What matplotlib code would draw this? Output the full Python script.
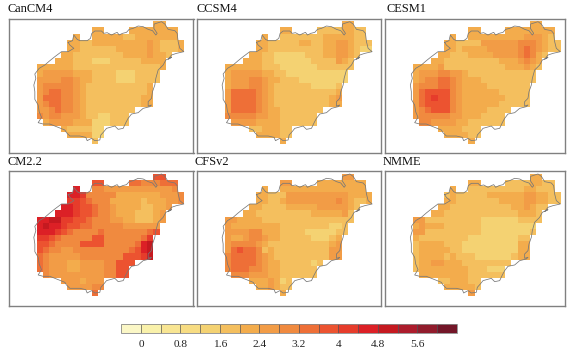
import numpy as np
import matplotlib
matplotlib.use("Agg")
import matplotlib.pyplot as plt
from matplotlib.colors import ListedColormap, BoundaryNorm

plt.rcParams['font.family'] = ['Liberation Serif', 'DejaVu Serif']

W, H = 571, 351
BOUNDS = [round(-0.4 + 0.4 * i, 1) for i in range(18)]
TICKS = [0, 0.8, 1.6, 2.4, 3.2, 4, 4.8, 5.6]
TICK_LABELS = ['0', '0.8', '1.6', '2.4', '3.2', '4', '4.8', '5.6']
COLORS = ['#FBF7C6', '#F9F1AA', '#F8E592', '#F7DC82', '#F4D272', '#F4BF5E', '#F3AC4C',
          '#F29C46', '#F08A3F', '#EE6F37', '#EC5330', '#E63C2B', '#DC2026', '#C51920',
          '#AC1C2C', '#911C2C', '#731628']

# class number (0-9, A-G) of each grid cell, '.' = no data, north to south
CanCM4 = [
    "...................66...",
    ".........66....66666666.",
    "......6..66666556666666.",
    ".....6655666666666765556",
    ".....6655555566666765556",
    "....665555555566667665..",
    "...666555444555556666...",
    "666666555555555555556...",
    "67777766655554445555....",
    "77778876655554445555....",
    "7888887655555555556.....",
    "7899887655555555556.....",
    "7999887655555555566.....",
    "7899887655555555566.....",
    "7789887655555555........",
    "878877765544555.........",
    ".67777666444555.........",
    "....6555544.............",
    ".....666644.............",
    ".........5..............",
]
CCSM4 = [
    "...................66...",
    ".........66....55556655.",
    "......6..55555556666655.",
    ".....6655555665566776555",
    ".....6655555555566776544",
    "....665544444555667765..",
    "...666554444445555765...",
    "666666555444444555555...",
    "67777766554444444444....",
    "67778876655544444444....",
    "6777887655555544445.....",
    "7999987655555555556.....",
    "7999987655555555567.....",
    "7999987655555555566.....",
    "7999987665555555........",
    "888887766555555.........",
    ".77776666555555.........",
    "....5566655.............",
    ".....666655.............",
    ".........6..............",
]
CESM1 = [
    "...................66...",
    ".........66....66666666.",
    "......6..66666666677765.",
    ".....6655557777778887655",
    ".....6656666777778987655",
    "....665556666777789865..",
    "...665555555556667876...",
    "666675555555555666765...",
    "67778877655555555555....",
    "67889987666555555555....",
    "7888998766665555555.....",
    "79AAAA8766666655555.....",
    "79ABAA8766666665555.....",
    "79AAAA8766666655555.....",
    "789AAA8766665555........",
    "788888776665555.........",
    ".88777766555555.........",
    "....6666555.............",
    ".....666655.............",
    ".........6..............",
]
CM22 = [
    "...................AA...",
    ".........AA....99888999.",
    "......C..88777777777778.",
    ".....CCB8888866666667778",
    ".....BBA9888666665666778",
    "....CCBAA9887666655667..",
    "...CCCBAA988766655567...",
    "CCDDBBAA9888776655567...",
    "CDCCBAA9988888777777....",
    "CCCBA98888988888889A....",
    "BBA988888AA8888889B.....",
    "AA98888AAAA888889CD.....",
    "A988778888888889ACD.....",
    "98777778888888AAABD.....",
    "9877766777788AAA........",
    "9877766777788AA.........",
    ".877777777788AA.........",
    "....7776777.............",
    ".....777788.............",
    ".........9..............",
]
CFSv2 = [
    "...................77...",
    ".........77....66666666.",
    "......6..66666666666666.",
    ".....6655577777777776666",
    ".....6655677777777876556",
    "....665555666667777765..",
    "...665555555556666675...",
    "776666555555555555555...",
    "76666666655555555445....",
    "77778866655554444455....",
    "7667887665555544456.....",
    "7888876555555555567.....",
    "79A9985655555555577.....",
    "8999987655555555577.....",
    "8999987665555545........",
    "899988766555555.........",
    ".88877766555555.........",
    "....6667645.............",
    ".....667655.............",
    ".........6..............",
]
NMME = [
    "...................66...",
    ".........66....55556655.",
    "......6..55555555566555.",
    ".....5655555666666776655",
    ".....6655555556666776655",
    "....665555555555667655..",
    "...665555555555556665...",
    "775555555554444445555...",
    "67666555555444444444....",
    "77555555555444444445....",
    "6555555554444444455.....",
    "5666655544444444466.....",
    "5666665544444444466.....",
    "5666656555444444566.....",
    "5667766655555555........",
    "566666666555444.........",
    ".66666666555555.........",
    "....5566655.............",
    ".....666665.............",
    ".........7..............",
]

# coastline traced on the CanCM4 panel
COAST_X = [205, 218, 222, 232, 240, 262, 272, 276, 285, 305, 312, 322, 335, 345, 352, 358, 368, 380, 388, 400,
           415, 430, 445, 458, 468, 472, 462, 463, 485, 495, 505, 525, 532, 535, 540, 552, 530, 515, 505, 515,
           498, 490, 475, 468, 465, 458, 455, 445, 445, 455, 450, 430, 415, 395, 385, 378, 370, 355, 345, 320,
           312, 303, 300, 285, 275, 262, 258, 240, 210, 200, 195, 170, 150, 130, 115, 125, 118, 115, 105, 105,
           102, 108, 105, 118, 135, 150, 165, 185, 205, 222, 210, 205]
COAST_Y = [127, 122, 105, 118, 122, 122, 115, 100, 93, 93, 100, 98, 105, 100, 97, 105, 100, 97, 88, 85,
           78, 80, 88, 92, 105, 100, 85, 72, 65, 72, 88, 92, 100, 125, 145, 155, 160, 165, 178, 172,
           180, 195, 210, 235, 255, 275, 295, 305, 318, 315, 320, 325, 338, 342, 355, 368, 385, 388, 378, 385,
           395, 405, 420, 422, 415, 422, 412, 408, 408, 398, 390, 380, 372, 372, 368, 352, 335, 315, 298, 275,
           255, 235, 222, 205, 195, 182, 170, 155, 155, 145, 135, 127]

PANELS = [
    ("CanCM4", CanCM4, (8.5, 193.5, 18.7, 153.3), (7.3, 12.5)),
    ("CCSM4", CCSM4, (196.8, 381.0, 18.7, 153.3), (196.7, 12.5)),
    ("CESM1", CESM1, (385.0, 565.0, 18.7, 153.3), (386.7, 12.5)),
    ("CM2.2", CM22, (8.5, 193.5, 171.0, 305.7), (7.0, 165.0)),
    ("CFSv2", CFSv2, (196.8, 381.0, 171.0, 305.7), (194.7, 165.0)),
    ("NMME", NMME, (385.0, 565.0, 171.0, 305.7), (382.7, 165.0)),
]
CODES = "0123456789ABCDEFG"
CELL_X, CELL_Y = 6.153, 6.133
OFF_X, OFF_Y = 28.0, 2.65


def to_grid(rows):
    assert len(rows) == 20 and all(len(r) == 24 for r in rows)
    out = np.full((20, 24), np.nan)
    for r, row in enumerate(rows):
        for c, ch in enumerate(row):
            if ch in CODES:
                out[r, c] = BOUNDS[CODES.index(ch)] + 0.2
    return out


cmap = ListedColormap(COLORS)
norm = BoundaryNorm(BOUNDS, cmap.N)
fig = plt.figure(figsize=(W / 100, H / 100), dpi=100)
mesh = None
for name, rows, (x0, x1, y0, y1), (tx, ty) in PANELS:
    ax = fig.add_axes([x0 / W, 1 - y1 / H, (x1 - x0) / W, (y1 - y0) / H])
    mesh = ax.pcolormesh(np.arange(25), np.arange(21), to_grid(rows), cmap=cmap, norm=norm,
                         linewidth=0, antialiased=False)
    ax.plot((np.array(COAST_X) - 110) / 18.46, (np.array(COAST_Y) - 64) / 18.4, color='#777777', lw=0.55)
    ax.set_xlim(-OFF_X / CELL_X, (x1 - x0 - OFF_X) / CELL_X)
    ax.set_ylim((y1 - y0 - OFF_Y) / CELL_Y, -OFF_Y / CELL_Y)
    ax.set_xticks([])
    ax.set_yticks([])
    for s in ax.spines.values():
        s.set_color('#808080')
        s.set_linewidth(1.0)
    fig.text(tx / W, 1 - ty / H, name, fontsize=8.9, color='#111111', ha='left', va='baseline')

cax = fig.add_axes([121.3 / W, 1 - 333.3 / H, (456.7 - 121.3) / W, 9.3 / H])
cb = fig.colorbar(mesh, cax=cax, orientation='horizontal', ticks=TICKS, spacing='uniform', drawedges=True)
cb.set_ticklabels(TICK_LABELS)
cb.minorticks_off()
cb.ax.tick_params(which='both', length=0, labelsize=8.2, pad=4.5, colors='#222222')
cb.dividers.set_color('#555555')
cb.dividers.set_linewidth(0.5)
cb.outline.set_edgecolor('#888888')
cb.outline.set_linewidth(0.6)

fig.savefig("out.png", dpi=100)
